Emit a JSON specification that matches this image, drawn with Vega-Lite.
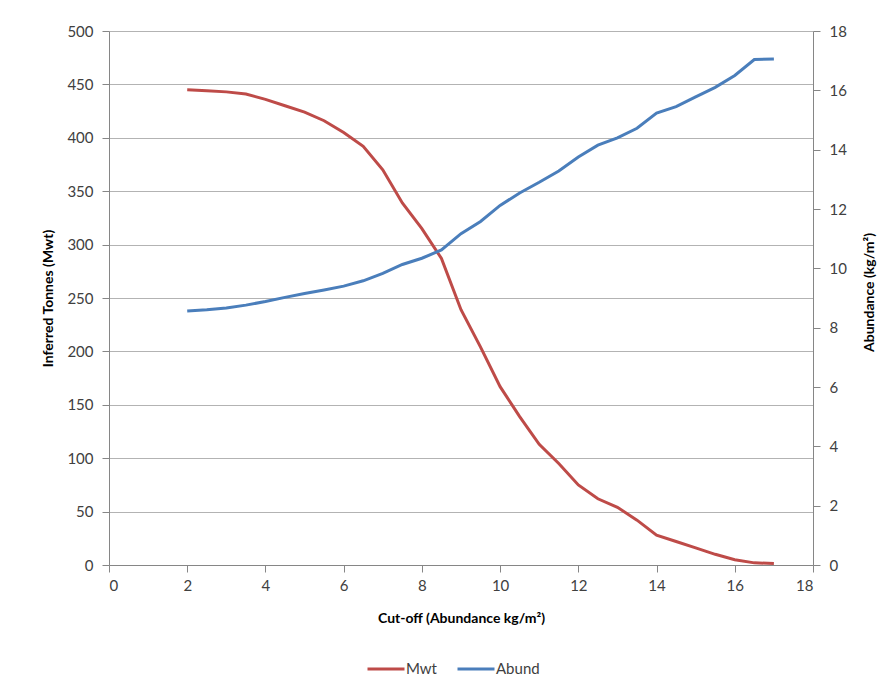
{
  "$schema": "https://vega.github.io/schema/vega-lite/v6.json",
  "width": 704,
  "height": 534,
  "autosize": {"type": "none"},
  "padding": {"left": 109, "top": 31, "right": 75, "bottom": 126},
  "background": "white",
  "config": {
    "view": {"stroke": null},
    "font": "Lato",
    "axis": {
      "labelFont": "Lato",
      "titleFont": "Lato",
      "labelFontSize": 15,
      "labelColor": "#404040",
      "titleFontSize": 14,
      "titleFontWeight": "bold",
      "titleColor": "#000000",
      "domainColor": "#868686",
      "tickColor": "#868686",
      "gridColor": "#B3B3B3",
      "gridWidth": 1,
      "tickSize": 7
    },
    "legend": {"labelFont": "Lato", "labelFontSize": 15, "labelColor": "#404040"}
  },
  "data": {
    "values": [
      {"cutoff": 2, "series": "Mwt", "value": 445},
      {"cutoff": 2.5, "series": "Mwt", "value": 444},
      {"cutoff": 3, "series": "Mwt", "value": 443},
      {"cutoff": 3.5, "series": "Mwt", "value": 441},
      {"cutoff": 4, "series": "Mwt", "value": 436},
      {"cutoff": 4.5, "series": "Mwt", "value": 430},
      {"cutoff": 5, "series": "Mwt", "value": 424},
      {"cutoff": 5.5, "series": "Mwt", "value": 416},
      {"cutoff": 6, "series": "Mwt", "value": 405},
      {"cutoff": 6.5, "series": "Mwt", "value": 392},
      {"cutoff": 7, "series": "Mwt", "value": 370},
      {"cutoff": 7.5, "series": "Mwt", "value": 339},
      {"cutoff": 8, "series": "Mwt", "value": 315},
      {"cutoff": 8.5, "series": "Mwt", "value": 287},
      {"cutoff": 9, "series": "Mwt", "value": 239},
      {"cutoff": 9.5, "series": "Mwt", "value": 204},
      {"cutoff": 10, "series": "Mwt", "value": 167},
      {"cutoff": 10.5, "series": "Mwt", "value": 139},
      {"cutoff": 11, "series": "Mwt", "value": 113},
      {"cutoff": 11.5, "series": "Mwt", "value": 95},
      {"cutoff": 12, "series": "Mwt", "value": 75},
      {"cutoff": 12.5, "series": "Mwt", "value": 62},
      {"cutoff": 13, "series": "Mwt", "value": 54},
      {"cutoff": 13.5, "series": "Mwt", "value": 42},
      {"cutoff": 14, "series": "Mwt", "value": 28},
      {"cutoff": 14.5, "series": "Mwt", "value": 22},
      {"cutoff": 15, "series": "Mwt", "value": 16},
      {"cutoff": 15.5, "series": "Mwt", "value": 10},
      {"cutoff": 16, "series": "Mwt", "value": 5},
      {"cutoff": 16.5, "series": "Mwt", "value": 2},
      {"cutoff": 17, "series": "Mwt", "value": 1.5},
      {"cutoff": 2, "series": "Abund", "value": 8.56},
      {"cutoff": 2.5, "series": "Abund", "value": 8.6},
      {"cutoff": 3, "series": "Abund", "value": 8.66},
      {"cutoff": 3.5, "series": "Abund", "value": 8.76},
      {"cutoff": 4, "series": "Abund", "value": 8.88},
      {"cutoff": 4.5, "series": "Abund", "value": 9.02},
      {"cutoff": 5, "series": "Abund", "value": 9.15},
      {"cutoff": 5.5, "series": "Abund", "value": 9.27},
      {"cutoff": 6, "series": "Abund", "value": 9.4},
      {"cutoff": 6.5, "series": "Abund", "value": 9.58},
      {"cutoff": 7, "series": "Abund", "value": 9.83},
      {"cutoff": 7.5, "series": "Abund", "value": 10.13},
      {"cutoff": 8, "series": "Abund", "value": 10.34},
      {"cutoff": 8.5, "series": "Abund", "value": 10.62},
      {"cutoff": 9, "series": "Abund", "value": 11.17},
      {"cutoff": 9.5, "series": "Abund", "value": 11.58},
      {"cutoff": 10, "series": "Abund", "value": 12.12},
      {"cutoff": 10.5, "series": "Abund", "value": 12.54},
      {"cutoff": 11, "series": "Abund", "value": 12.9},
      {"cutoff": 11.5, "series": "Abund", "value": 13.28},
      {"cutoff": 12, "series": "Abund", "value": 13.75},
      {"cutoff": 12.5, "series": "Abund", "value": 14.15},
      {"cutoff": 13, "series": "Abund", "value": 14.4},
      {"cutoff": 13.5, "series": "Abund", "value": 14.72},
      {"cutoff": 14, "series": "Abund", "value": 15.23},
      {"cutoff": 14.5, "series": "Abund", "value": 15.45},
      {"cutoff": 15, "series": "Abund", "value": 15.78},
      {"cutoff": 15.5, "series": "Abund", "value": 16.1},
      {"cutoff": 16, "series": "Abund", "value": 16.5},
      {"cutoff": 16.5, "series": "Abund", "value": 17.04},
      {"cutoff": 17, "series": "Abund", "value": 17.06}
    ]
  },
  "encoding": {
    "x": {
      "field": "cutoff",
      "type": "quantitative",
      "scale": {"domain": [0, 18], "nice": false},
      "axis": {
        "values": [0, 2, 4, 6, 8, 10, 12, 14, 16, 18],
        "grid": false,
        "title": "Cut-off (Abundance kg/m²)",
        "labelPadding": 6,
        "titlePadding": 18
      }
    },
    "color": {
      "field": "series",
      "type": "nominal",
      "scale": {"domain": ["Mwt", "Abund"], "range": ["#BE4B48", "#4A7EBB"]},
      "legend": {
        "title": null,
        "orient": "none",
        "direction": "horizontal",
        "legendX": 257,
        "legendY": 618,
        "symbolType": "stroke",
        "symbolStrokeWidth": 3,
        "symbolSize": 1369,
        "labelOffset": 0,
        "columnPadding": 14
      }
    }
  },
  "layer": [
    {
      "transform": [{"filter": "datum.series === 'Mwt'"}],
      "mark": {"type": "line", "strokeWidth": 3},
      "encoding": {
        "y": {
          "field": "value",
          "type": "quantitative",
          "scale": {"domain": [0, 500], "nice": false},
          "axis": {
            "values": [0, 50, 100, 150, 200, 250, 300, 350, 400, 450, 500],
            "grid": true,
            "title": "Inferred Tonnes (Mwt)",
            "labelPadding": 9,
            "titlePadding": 11
          }
        }
      }
    },
    {
      "transform": [{"filter": "datum.series === 'Abund'"}],
      "mark": {"type": "line", "strokeWidth": 3},
      "encoding": {
        "y": {
          "field": "value",
          "type": "quantitative",
          "scale": {"domain": [0, 18], "nice": false},
          "axis": {
            "orient": "right",
            "values": [0, 2, 4, 6, 8, 10, 12, 14, 16, 18],
            "grid": false,
            "title": "Abundance (kg/m²)",
            "titleAngle": 270,
            "titleY": 261,
            "labelPadding": 9,
            "titlePadding": 30
          }
        }
      }
    }
  ],
  "resolve": {"scale": {"y": "independent"}}
}
